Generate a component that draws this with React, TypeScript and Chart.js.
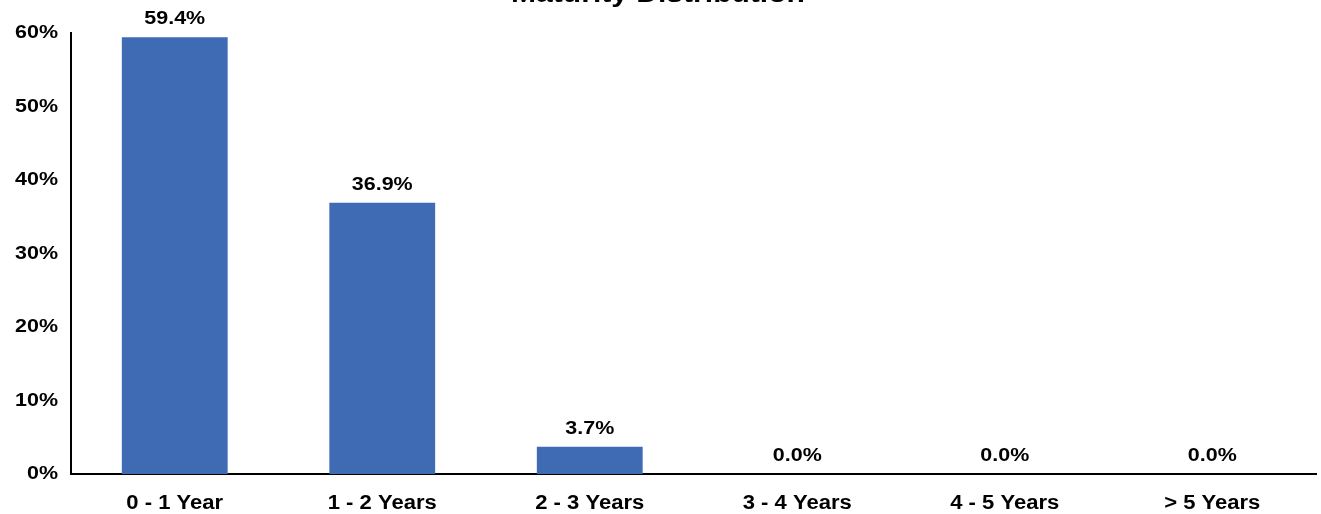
import React, { useEffect, useRef } from "react";
import { Chart, registerables } from "chart.js";

Chart.register(...registerables);

const categories: string[] = ["0 - 1 Year", "1 - 2 Years", "2 - 3 Years", "3 - 4 Years", "4 - 5 Years", "> 5 Years"];
const values: number[] = [59.4, 36.9, 3.7, 0.0, 0.0, 0.0];
const yTicks: number[] = [0, 10, 20, 30, 40, 50, 60];
const titleText = "Maturity Distribution";

const FONT = "'Liberation Sans', Arial, sans-serif";
const TEXT_STRETCH = 1.13;

// Text in the reference is rendered slightly wide; stretch glyphs horizontally around the anchor point.
const stretchText = {
  id: "stretchText",
  beforeDraw(chart: any) {
    const ctx = chart.ctx as any;
    if (ctx.__stretched) return;
    const orig = ctx.fillText.bind(ctx);
    ctx.fillText = (text: string, x: number, y: number, maxWidth?: number) => {
      ctx.save();
      ctx.translate(x, y);
      ctx.scale(TEXT_STRETCH, 1);
      if (maxWidth !== undefined) orig(text, 0, 0, maxWidth);
      else orig(text, 0, 0);
      ctx.restore();
    };
    ctx.__stretched = true;
  },
};

const valueLabels = {
  id: "valueLabels",
  afterDatasetsDraw(chart: any) {
    const ctx = chart.ctx;
    const meta = chart.getDatasetMeta(0);
    ctx.save();
    ctx.font = `bold 19px ${FONT}`;
    ctx.fillStyle = "#000";
    ctx.textAlign = "center";
    ctx.textBaseline = "alphabetic";
    meta.data.forEach((bar: any, i: number) => {
      const v = values[i];
      ctx.fillText(v.toFixed(1) + "%", bar.x, bar.y - 13);
    });
    ctx.restore();
  },
};

export default function App() {
  const ref = useRef<HTMLCanvasElement | null>(null);
  useEffect(() => {
    document.body.style.margin = "0";
    const canvas = ref.current!;
    const chart = new Chart(canvas, {
      type: "bar",
      data: {
        labels: categories,
        datasets: [
          {
            data: values,
            backgroundColor: "#3E6BB4",
            borderWidth: 0,
            categoryPercentage: 1,
            barPercentage: 0.51,
          },
        ],
      },
      options: {
        animation: false,
        responsive: false,
        maintainAspectRatio: false,
        layout: { padding: { top: 0, right: 5, bottom: 0, left: 0 } },
        plugins: {
          legend: { display: false },
          tooltip: { enabled: false },
          title: {
            display: true,
            text: titleText,
            color: "#000",
            font: { family: FONT, size: 26.6, weight: "bold" },
            padding: { top: -21, bottom: 22 },
          },
        },
        scales: {
          x: {
            grid: { display: false, drawTicks: false },
            border: { display: true, color: "#000", width: 2 },
            afterFit: (scale: any) => {
              scale.height = 40;
            },
            ticks: {
              color: "#000",
              padding: 18,
              font: { family: FONT, size: 19.5, weight: "bold" },
            },
          },
          y: {
            min: 0,
            max: 60,
            grid: { display: false, drawTicks: false },
            border: { display: true, color: "#000", width: 2 },
            afterFit: (scale: any) => {
              scale.width = 71;
            },
            afterBuildTicks: (scale: any) => {
              scale.ticks = yTicks.map((v) => ({ value: v }));
            },
            ticks: {
              color: "#000",
              padding: 13,
              font: { family: FONT, size: 19, weight: "bold" },
              callback: (v: any) => v + "%",
            },
          },
        },
      },
      plugins: [stretchText, valueLabels],
    });
    return () => chart.destroy();
  }, []);
  return (
    <div style={{ width: 1321, height: 514 }}>
      <canvas ref={ref} width={1321} height={514} style={{ display: "block" }} />
    </div>
  );
}
